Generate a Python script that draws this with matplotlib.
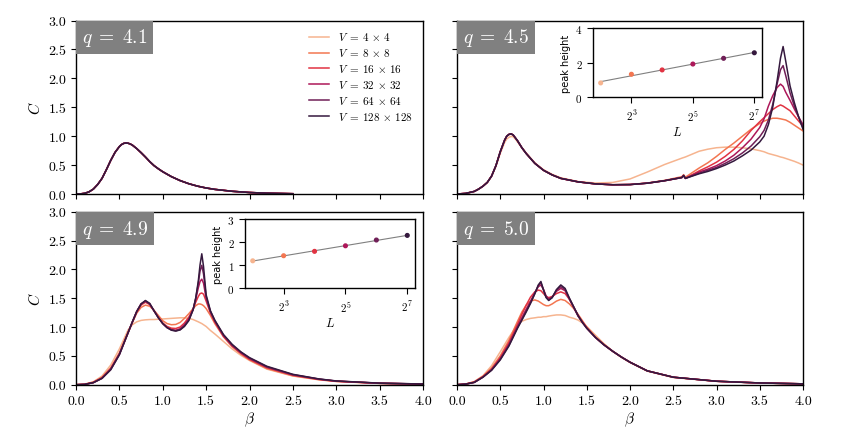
import numpy as np
import matplotlib
matplotlib.use("Agg")
import matplotlib.pyplot as plt
from matplotlib.offsetbox import AnchoredText
import seaborn as sns

# ---------------- data ----------------
sizes = [4, 8, 16, 32, 64, 128]
labels = [r"$V\;=\;%d\,\times\,%d$" % (s, s) for s in sizes]
q_values = ["4.1", "4.5", "4.9", "5.0"]

# q = 4.1 (all sizes coincide)
beta_q41 = [0, 0.05, 0.1, 0.15, 0.2, 0.25, 0.3, 0.35, 0.4, 0.45, 0.5, 0.525, 0.55, 0.575, 0.6,
            0.625, 0.65, 0.7, 0.75, 0.8, 0.85, 0.9, 0.95, 1.0, 1.1, 1.2, 1.3, 1.4, 1.5, 1.6,
            1.8, 2.0, 2.2, 2.5]
C_q41 = [0, 0.002, 0.012, 0.037, 0.085, 0.165, 0.27, 0.42, 0.58, 0.72, 0.82, 0.855, 0.875, 0.882, 0.878,
         0.865, 0.845, 0.785, 0.715, 0.64, 0.56, 0.49, 0.435, 0.385, 0.30, 0.232, 0.178, 0.136, 0.104, 0.08,
         0.047, 0.026, 0.014, 0.005]

# q = 4.5
beta_q45 = [0, 0.1, 0.2, 0.25, 0.3, 0.35, 0.4, 0.45, 0.5, 0.55, 0.575, 0.6, 0.625, 0.65, 0.675, 0.7,
            0.75, 0.8, 0.9, 1.0, 1.1, 1.2, 1.4,
            1.6, 1.8, 2.0, 2.2, 2.4, 2.6, 2.62, 2.64,
            2.8, 2.9, 3.0, 3.1, 3.2, 3.3, 3.4, 3.5, 3.55, 3.6, 3.65, 3.7, 3.74, 3.77, 3.8, 3.85,
            3.9, 3.95, 4.0]
C_q45_L4 = [0, 0.01, 0.045, 0.085, 0.135, 0.2, 0.31, 0.48, 0.70, 0.89, 0.95, 0.98, 0.995, 0.99, 0.95, 0.90,
            0.80, 0.71, 0.54, 0.42, 0.34, 0.28, 0.215,
            0.19, 0.20, 0.26, 0.38, 0.51, 0.62, 0.63, 0.64,
            0.74, 0.775, 0.80, 0.81, 0.81, 0.80, 0.78, 0.75, 0.73, 0.70, 0.68, 0.66, 0.64, 0.63, 0.615, 0.59,
            0.565, 0.535, 0.50]
C_q45_L8 = [0, 0.01, 0.045, 0.085, 0.135, 0.2, 0.31, 0.49, 0.73, 0.93, 1.00, 1.03, 1.04, 1.02, 0.97, 0.92,
            0.80, 0.70, 0.53, 0.41, 0.33, 0.27, 0.21,
            0.175, 0.16, 0.165, 0.19, 0.235, 0.30, 0.335, 0.29,
            0.45, 0.54, 0.65, 0.77, 0.88, 1.00, 1.12, 1.22, 1.26, 1.29, 1.31, 1.31, 1.30, 1.29, 1.28, 1.24,
            1.19, 1.14, 1.09]
C_q45_L16 = [0, 0.01, 0.045, 0.085, 0.135, 0.2, 0.31, 0.49, 0.73, 0.93, 1.00, 1.03, 1.04, 1.02, 0.97, 0.92,
             0.80, 0.70, 0.53, 0.41, 0.33, 0.27, 0.21,
             0.175, 0.16, 0.163, 0.187, 0.23, 0.285, 0.32, 0.27,
             0.40, 0.47, 0.55, 0.65, 0.77, 0.92, 1.10, 1.25, 1.32, 1.39, 1.46, 1.51, 1.54, 1.52, 1.49, 1.44,
             1.35, 1.26, 1.17]
C_q45_L32 = [0, 0.01, 0.045, 0.085, 0.135, 0.2, 0.31, 0.49, 0.73, 0.93, 1.00, 1.03, 1.04, 1.02, 0.97, 0.92,
             0.80, 0.70, 0.53, 0.41, 0.33, 0.27, 0.21,
             0.175, 0.16, 0.163, 0.187, 0.23, 0.285, 0.32, 0.27,
             0.38, 0.43, 0.49, 0.57, 0.67, 0.80, 0.95, 1.15, 1.30, 1.52, 1.70, 1.84, 1.90, 1.86, 1.76, 1.62,
             1.47, 1.33, 1.20]
C_q45_L64 = [0, 0.01, 0.045, 0.085, 0.135, 0.2, 0.31, 0.49, 0.73, 0.93, 1.00, 1.03, 1.04, 1.02, 0.97, 0.92,
             0.80, 0.70, 0.53, 0.41, 0.33, 0.27, 0.21,
             0.175, 0.16, 0.163, 0.187, 0.23, 0.285, 0.32, 0.27,
             0.36, 0.41, 0.46, 0.53, 0.61, 0.71, 0.83, 0.99, 1.10, 1.28, 1.55, 1.90, 2.15, 2.22, 2.05, 1.75,
             1.52, 1.33, 1.15]
C_q45_L128 = [0, 0.01, 0.045, 0.085, 0.135, 0.2, 0.31, 0.49, 0.73, 0.93, 1.00, 1.03, 1.04, 1.02, 0.97, 0.92,
              0.80, 0.70, 0.53, 0.41, 0.33, 0.27, 0.21,
              0.175, 0.16, 0.163, 0.187, 0.23, 0.285, 0.32, 0.27,
              0.35, 0.39, 0.44, 0.50, 0.57, 0.66, 0.76, 0.90, 1.00, 1.20, 1.50, 1.95, 2.35, 2.55, 2.30, 1.87,
              1.58, 1.33, 1.12]

# q = 4.9
beta_q49 = [0, 0.1, 0.2, 0.3, 0.4, 0.5, 0.6, 0.65, 0.7, 0.75,
            0.8, 0.85, 0.9, 0.95, 1.0, 1.05, 1.1, 1.15, 1.2, 1.25,
            1.3, 1.35, 1.38, 1.41, 1.43, 1.45, 1.47, 1.5, 1.55, 1.6,
            1.7, 1.8, 1.9, 2.0, 2.2, 2.5, 2.8, 3.0, 3.5, 4.0]
C_q49_L4 = [0, 0.01, 0.05, 0.15, 0.34, 0.62, 0.95, 1.04, 1.09, 1.115,
            1.125, 1.13, 1.13, 1.135, 1.14, 1.145, 1.15, 1.155, 1.16, 1.16,
            1.15, 1.13, 1.11, 1.09, 1.075, 1.06, 1.04, 1.01, 0.94, 0.88,
            0.75, 0.62, 0.51, 0.42, 0.27, 0.15, 0.085, 0.055, 0.022, 0.009]
C_q49_L8 = [0, 0.007, 0.045, 0.13, 0.29, 0.55, 0.91, 1.08, 1.24, 1.34,
            1.38, 1.36, 1.29, 1.20, 1.11, 1.06, 1.04, 1.045, 1.08, 1.15,
            1.23, 1.32, 1.37, 1.40, 1.40, 1.39, 1.37, 1.32, 1.20, 1.06,
            0.83, 0.66, 0.535, 0.43, 0.28, 0.155, 0.088, 0.058, 0.023, 0.01]
C_q49_L16 = [0, 0.006, 0.04, 0.12, 0.28, 0.54, 0.90, 1.08, 1.26, 1.38,
             1.43, 1.39, 1.28, 1.17, 1.07, 1.01, 0.98, 0.975, 1.00, 1.07,
             1.17, 1.31, 1.43, 1.53, 1.58, 1.59, 1.57, 1.45, 1.24, 1.09,
             0.84, 0.67, 0.545, 0.44, 0.295, 0.165, 0.092, 0.06, 0.024, 0.011]
C_q49_L32 = [0, 0.005, 0.037, 0.115, 0.27, 0.53, 0.90, 1.09, 1.27, 1.40,
             1.45, 1.40, 1.28, 1.16, 1.06, 0.99, 0.955, 0.945, 0.97, 1.04,
             1.14, 1.31, 1.48, 1.68, 1.79, 1.83, 1.76, 1.50, 1.26, 1.10,
             0.85, 0.68, 0.555, 0.455, 0.305, 0.17, 0.095, 0.062, 0.025, 0.011]
C_q49_L64 = [0, 0.005, 0.036, 0.11, 0.26, 0.52, 0.90, 1.09, 1.27, 1.40,
             1.45, 1.40, 1.28, 1.16, 1.06, 0.99, 0.95, 0.935, 0.955, 1.02,
             1.12, 1.30, 1.50, 1.76, 1.97, 2.07, 1.92, 1.53, 1.27, 1.11,
             0.86, 0.69, 0.565, 0.46, 0.31, 0.175, 0.098, 0.063, 0.026, 0.012]
C_q49_L128 = [0, 0.005, 0.035, 0.11, 0.26, 0.52, 0.90, 1.09, 1.27, 1.40,
              1.46, 1.41, 1.28, 1.16, 1.06, 0.99, 0.945, 0.93, 0.95, 1.01,
              1.11, 1.30, 1.50, 1.80, 2.08, 2.27, 2.05, 1.56, 1.28, 1.12,
              0.87, 0.70, 0.57, 0.47, 0.32, 0.18, 0.10, 0.065, 0.027, 0.012]

# q = 5.0
beta_q50 = [0, 0.1, 0.2, 0.3, 0.4, 0.5, 0.6, 0.7, 0.75, 0.8,
            0.85, 0.9, 0.94, 0.97, 1.0, 1.03, 1.06, 1.1, 1.15, 1.2,
            1.25, 1.3, 1.35, 1.4, 1.45, 1.5, 1.6, 1.7, 1.8, 1.9,
            2.0, 2.2, 2.5, 3.0, 3.5, 4.0]
C_q50_L4 = [0, 0.012, 0.055, 0.155, 0.33, 0.57, 0.82, 1.04, 1.10, 1.13,
            1.15, 1.16, 1.17, 1.17, 1.18, 1.18, 1.19, 1.20, 1.21, 1.21,
            1.20, 1.17, 1.15, 1.12, 1.07, 1.01, 0.86, 0.71, 0.58, 0.475,
            0.385, 0.235, 0.125, 0.058, 0.028, 0.014]
C_q50_L8 = [0, 0.011, 0.05, 0.145, 0.29, 0.50, 0.77, 1.10, 1.26, 1.38,
            1.45, 1.47, 1.45, 1.42, 1.39, 1.37, 1.37, 1.40, 1.45, 1.48,
            1.46, 1.40, 1.32, 1.22, 1.11, 1.00, 0.83, 0.70, 0.58, 0.48,
            0.39, 0.24, 0.13, 0.06, 0.03, 0.015]
C_q50_L16 = [0, 0.01, 0.045, 0.14, 0.27, 0.47, 0.73, 1.05, 1.22, 1.38,
             1.52, 1.61, 1.64, 1.63, 1.58, 1.53, 1.51, 1.53, 1.58, 1.61,
             1.58, 1.48, 1.34, 1.20, 1.09, 0.99, 0.82, 0.69, 0.58, 0.48,
             0.39, 0.24, 0.13, 0.06, 0.03, 0.015]
C_q50_L32 = [0, 0.01, 0.042, 0.135, 0.26, 0.45, 0.70, 1.01, 1.16, 1.31,
             1.45, 1.60, 1.70, 1.73, 1.65, 1.54, 1.49, 1.52, 1.62, 1.67,
             1.63, 1.48, 1.34, 1.19, 1.08, 0.98, 0.82, 0.69, 0.58, 0.48,
             0.39, 0.24, 0.13, 0.06, 0.03, 0.015]
C_q50_L64 = [0, 0.01, 0.04, 0.13, 0.255, 0.44, 0.68, 0.99, 1.13, 1.28,
             1.42, 1.58, 1.72, 1.77, 1.65, 1.52, 1.47, 1.51, 1.64, 1.70,
             1.65, 1.49, 1.34, 1.19, 1.08, 0.98, 0.82, 0.69, 0.58, 0.48,
             0.39, 0.24, 0.13, 0.06, 0.03, 0.015]
C_q50_L128 = [0, 0.01, 0.04, 0.13, 0.25, 0.43, 0.67, 0.98, 1.12, 1.26,
              1.41, 1.58, 1.73, 1.79, 1.64, 1.51, 1.46, 1.51, 1.65, 1.73,
              1.67, 1.50, 1.35, 1.20, 1.08, 0.98, 0.82, 0.69, 0.58, 0.48,
              0.39, 0.24, 0.13, 0.06, 0.03, 0.015]

# inset peak heights
L_inset = [4, 8, 16, 32, 64, 128]
peak_q45 = [0.83, 1.33, 1.58, 1.92, 2.25, 2.57]
peak_q49 = [1.19, 1.41, 1.60, 1.84, 2.09, 2.29]

# ---------------- style ----------------
plt.rcParams.update({
    "font.family": "serif",
    "font.serif": ["cmr10"],
    "mathtext.fontset": "cm",
    "axes.formatter.use_mathtext": True,
    "axes.unicode_minus": False,
    "font.size": 10,
    "axes.linewidth": 1.0,
})
colors = sns.color_palette("rocket_r", 6)

fig = plt.figure(figsize=(8.47, 4.39), dpi=100)
W, H = 847.0, 439.0

def ax_px(x0, y0, x1, y1):
    return fig.add_axes([x0 / W, 1 - y1 / H, (x1 - x0) / W, (y1 - y0) / H])

ax1 = ax_px(76, 21.5, 423, 195)
ax2 = ax_px(457, 21.5, 803, 195)
ax3 = ax_px(76, 212.7, 423, 385.7)
ax4 = ax_px(457, 212.7, 803, 385.7)

panels = [
    (ax1, q_values[0], [beta_q41] * 6, [C_q41] * 6),
    (ax2, q_values[1], [beta_q45] * 6, [C_q45_L4, C_q45_L8, C_q45_L16, C_q45_L32, C_q45_L64, C_q45_L128]),
    (ax3, q_values[2], [beta_q49] * 6, [C_q49_L4, C_q49_L8, C_q49_L16, C_q49_L32, C_q49_L64, C_q49_L128]),
    (ax4, q_values[3], [beta_q50] * 6, [C_q50_L4, C_q50_L8, C_q50_L16, C_q50_L32, C_q50_L64, C_q50_L128]),
]

for ax, q, bs, cs in panels:
    for i in range(6):
        ax.plot(bs[i], cs[i], color=colors[i], lw=1.1, label=labels[i])
    ax.set_xlim(0, 4)
    ax.set_ylim(0, 3)
    ax.set_xticks(np.arange(0, 4.01, 0.5))
    ax.set_yticks(np.arange(0, 3.01, 0.5))
    ax.xaxis.set_major_formatter(matplotlib.ticker.FormatStrFormatter("%.1f"))
    ax.yaxis.set_major_formatter(matplotlib.ticker.FormatStrFormatter("%.1f"))
    at = AnchoredText(r"$q\;=\;%s$" % q, loc="upper left", frameon=True, borderpad=0.0,
                      pad=0.3, prop=dict(color="white", size=14))
    at.patch.set_facecolor("gray")
    at.patch.set_edgecolor("none")
    ax.add_artist(at)

for ax in (ax1, ax2):
    ax.tick_params(labelbottom=False)
for ax in (ax2, ax4):
    ax.tick_params(labelleft=False)
ax1.set_ylabel(r"$C$", fontsize=11)
ax3.set_ylabel(r"$C$", fontsize=11)
ax3.set_xlabel(r"$\beta$", fontsize=11, labelpad=2)
ax4.set_xlabel(r"$\beta$", fontsize=11, labelpad=2)

ax1.legend(loc="upper right", frameon=False, fontsize=8, handlelength=1.8,
           labelspacing=0.35, borderaxespad=0.5)

# ---------------- insets ----------------
def inset(rect, peaks, ymax, yticks):
    ia = ax_px(*rect)
    ia.set_xscale("log", base=2)
    coef = np.polyfit(np.log2(L_inset), peaks, 1)
    xs = np.array([L_inset[0], L_inset[-1]], dtype=float)
    ia.plot(xs, coef[0] * np.log2(xs) + coef[1], color="gray", lw=0.8, zorder=1)
    ia.scatter(L_inset, peaks, c=colors, s=7, zorder=2)
    ia.set_ylim(0, ymax)
    ia.set_yticks(yticks)
    ia.set_xticks([8, 32, 128])
    ia.set_xticklabels([r"$2^3$", r"$2^5$", r"$2^7$"])
    ia.xaxis.set_minor_locator(matplotlib.ticker.NullLocator())
    ia.tick_params(labelsize=8, length=4)
    ia.set_xlabel(r"$L$", fontsize=9, labelpad=2)
    ia.set_ylabel("peak height", family="DejaVu Sans", fontsize=7, labelpad=3)
    return ia

inset((593, 29, 762, 98.3), peak_q45, 4, [0, 2, 4])
inset((245, 220, 415, 289.3), peak_q49, 3, [0, 1, 2, 3])

fig.savefig("out.png", dpi=100)
